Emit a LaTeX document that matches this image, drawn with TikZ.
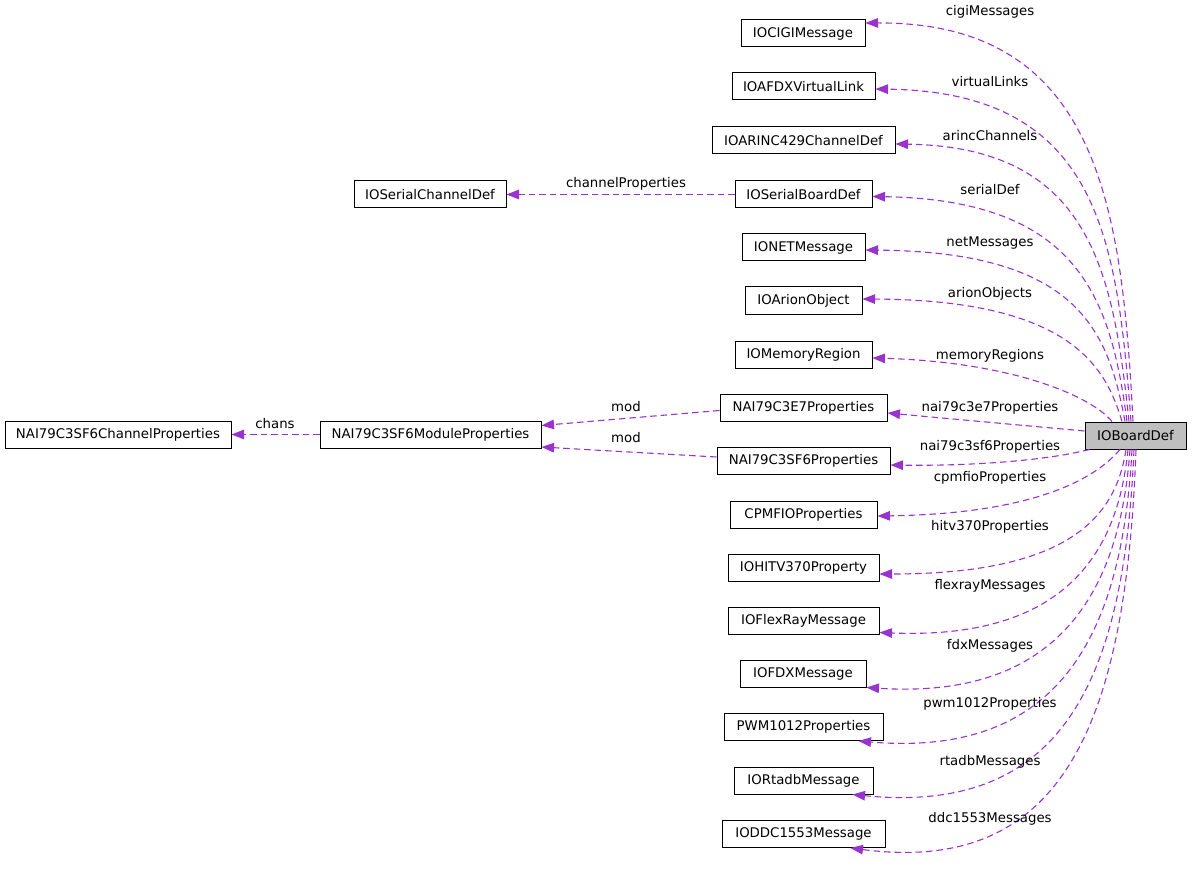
\documentclass[tikz,border=0pt]{standalone}
\usepackage{fontspec}
\setmainfont{DejaVu Sans}
\usetikzlibrary{arrows.meta}
\definecolor{edgec}{HTML}{9A32CD}
\definecolor{mainfill}{HTML}{BFBFBF}
\begin{document}
\begin{tikzpicture}[x=1pt,y=-1pt,
  cls/.style={draw=black, line width=1pt, minimum height=27pt, inner sep=0pt, font=\fontsize{13.3}{15}\selectfont, fill=white},
  rel/.style={draw=edgec, line width=1.1pt, dash pattern=on 6.5pt off 4pt, -{Triangle[length=12.5pt,width=9.5pt]}},
  lbl/.style={font=\fontsize{13.3}{15}\selectfont, inner sep=0pt}]
\useasboundingbox[fill=white] (0,0) rectangle (1192,869);
% nodes
\node[cls, fill=mainfill, minimum width=101pt] (board) at (1135.5,435.5) {IOBoardDef};
\node[cls, minimum width=124pt] (cigi) at (803,33.5) {IOCIGIMessage};
\node[cls, minimum width=143pt] (afdx) at (803.5,86.5) {IOAFDXVirtualLink};
\node[cls, minimum width=183pt] (arinc) at (803.5,140.5) {IOARINC429ChannelDef};
\node[cls, minimum width=137pt] (serialb) at (803.5,194.5) {IOSerialBoardDef};
\node[cls, minimum width=152pt] (serialc) at (430,194.5) {IOSerialChannelDef};
\node[cls, minimum width=123pt] (net) at (803.5,247.5) {IONETMessage};
\node[cls, minimum width=117pt] (arion) at (803.5,300.5) {IOArionObject};
\node[cls, minimum width=137pt] (mem) at (803.5,354.5) {IOMemoryRegion};
\node[cls, minimum width=167pt] (e7) at (803.5,407.5) {NAI79C3E7Properties};
\node[cls, minimum width=173pt] (sf6) at (803.5,460.5) {NAI79C3SF6Properties};
\node[cls, minimum width=147pt] (cpm) at (803.5,514.5) {CPMFIOProperties};
\node[cls, minimum width=151pt] (hitv) at (803.5,567.5) {IOHITV370Property};
\node[cls, minimum width=151pt] (flex) at (803.5,620.5) {IOFlexRayMessage};
\node[cls, minimum width=126pt] (fdx) at (803,673.5) {IOFDXMessage};
\node[cls, minimum width=159pt] (pwm) at (803.5,727) {PWM1012Properties};
\node[cls, minimum width=139pt] (rtadb) at (803.5,780.5) {IORtadbMessage};
\node[cls, minimum width=163pt] (ddc) at (803.5,834) {IODDC1553Message};
\node[cls, minimum width=221pt] (modp) at (430.5,434.5) {NAI79C3SF6ModuleProperties};
\node[cls, minimum width=226pt] (chanp) at (118,434.5) {NAI79C3SF6ChannelProperties};
% edges (top)
\draw[rel] ([xshift=-2.5pt]board.north) .. controls (1122,210) and (1100,22) .. ([yshift=10.5pt]cigi.east);
\draw[rel] ([xshift=-4.5pt]board.north) .. controls (1117,240) and (1100,92) .. ([yshift=-2.5pt]afdx.east);
\draw[rel] ([xshift=-6.5pt]board.north) .. controls (1113,270) and (1090,147) .. ([yshift=-3.5pt]arinc.east);
\draw[rel] ([xshift=-8.5pt]board.north) .. controls (1111,300) and (1080,200) .. ([yshift=-2pt]serialb.east);
\draw[rel] ([xshift=-10.5pt]board.north) .. controls (1108,330) and (1078,252) .. ([yshift=-2.5pt]net.east);
\draw[rel] ([xshift=-13.5pt]board.north) .. controls (1106,368) and (1072,300) .. ([yshift=1.5pt]arion.east);
\draw[rel] ([xshift=-23.5pt]board.north) .. controls (1090,395) and (1010,362) .. ([yshift=-3.5pt]mem.east);
\draw[rel] ([yshift=4.5pt]board.west) -- ([yshift=-5.5pt]e7.east);
% edges (bottom)
\draw[rel] ([xshift=5pt]board.south west) .. controls (1040,462) and (960,466) .. ([yshift=-4.5pt]sf6.east);
\draw[rel] ([xshift=-15.5pt]board.south) .. controls (1090,485) and (1020,514) .. ([yshift=-1.5pt]cpm.east);
\draw[rel] ([xshift=-9.5pt]board.south) .. controls (1116,515) and (1072,574) .. ([yshift=-6.5pt]hitv.east);
\draw[rel] ([xshift=-7.5pt]board.south) .. controls (1118,550) and (1068,640) .. ([yshift=-12pt]flex.east);
\draw[rel] ([xshift=-5.5pt]board.south) .. controls (1120,590) and (1060,700) .. (fdx.south east);
\draw[rel] ([xshift=-3.5pt]board.south) .. controls (1122,635) and (1060,758) .. ([xshift=-25pt]pwm.south east);
\draw[rel] ([xshift=-1.5pt]board.south) .. controls (1124,685) and (1060,815) .. ([xshift=-21pt]rtadb.south east);
\draw[rel] ([xshift=0.5pt]board.south) .. controls (1126,730) and (1060,875) .. ([xshift=-35pt]ddc.south east);
% edges (left)
\draw[rel] (serialb.west) -- (serialc.east);
\draw[rel] ([yshift=-3pt]e7.west) -- ([yshift=9pt]modp.east);
\draw[rel] ([yshift=3.5pt]sf6.west) -- ([yshift=-12.5pt]modp.east);
\draw[rel] (modp.west) -- (chanp.east);
% labels
\node[lbl] (l1) at (990,12) {cigiMessages};
\node[lbl] (l2) at (990,82) {virtualLinks};
\node[lbl] (l3) at (990,136) {arincChannels};
\node[lbl] (l4) at (990,190) {serialDef};
\node[lbl] (l5) at (990,243) {netMessages};
\node[lbl] (l6) at (990,294) {arionObjects};
\node[lbl] (l7) at (990,356) {memoryRegions};
\node[lbl] (l8) at (990,408) {nai79c3e7Properties};
\node[lbl] (l9) at (990,447) {nai79c3sf6Properties};
\node[lbl] (l10) at (990,478) {cpmfioProperties};
\node[lbl] (l11) at (990,527) {hitv370Properties};
\node[lbl] (l12) at (990,586) {flexrayMessages};
\node[lbl] (l13) at (990,646) {fdxMessages};
\node[lbl] (l14) at (990,704) {pwm1012Properties};
\node[lbl] (l15) at (990,762) {rtadbMessages};
\node[lbl] (l16) at (990,819) {ddc1553Messages};
\node[lbl] (l17) at (626,184) {channelProperties};
\node[lbl] (l18) at (626,407) {mod};
\node[lbl] (l19) at (626,438) {mod};
\node[lbl] (l20) at (275,424) {chans};
\end{tikzpicture}
\end{document}
